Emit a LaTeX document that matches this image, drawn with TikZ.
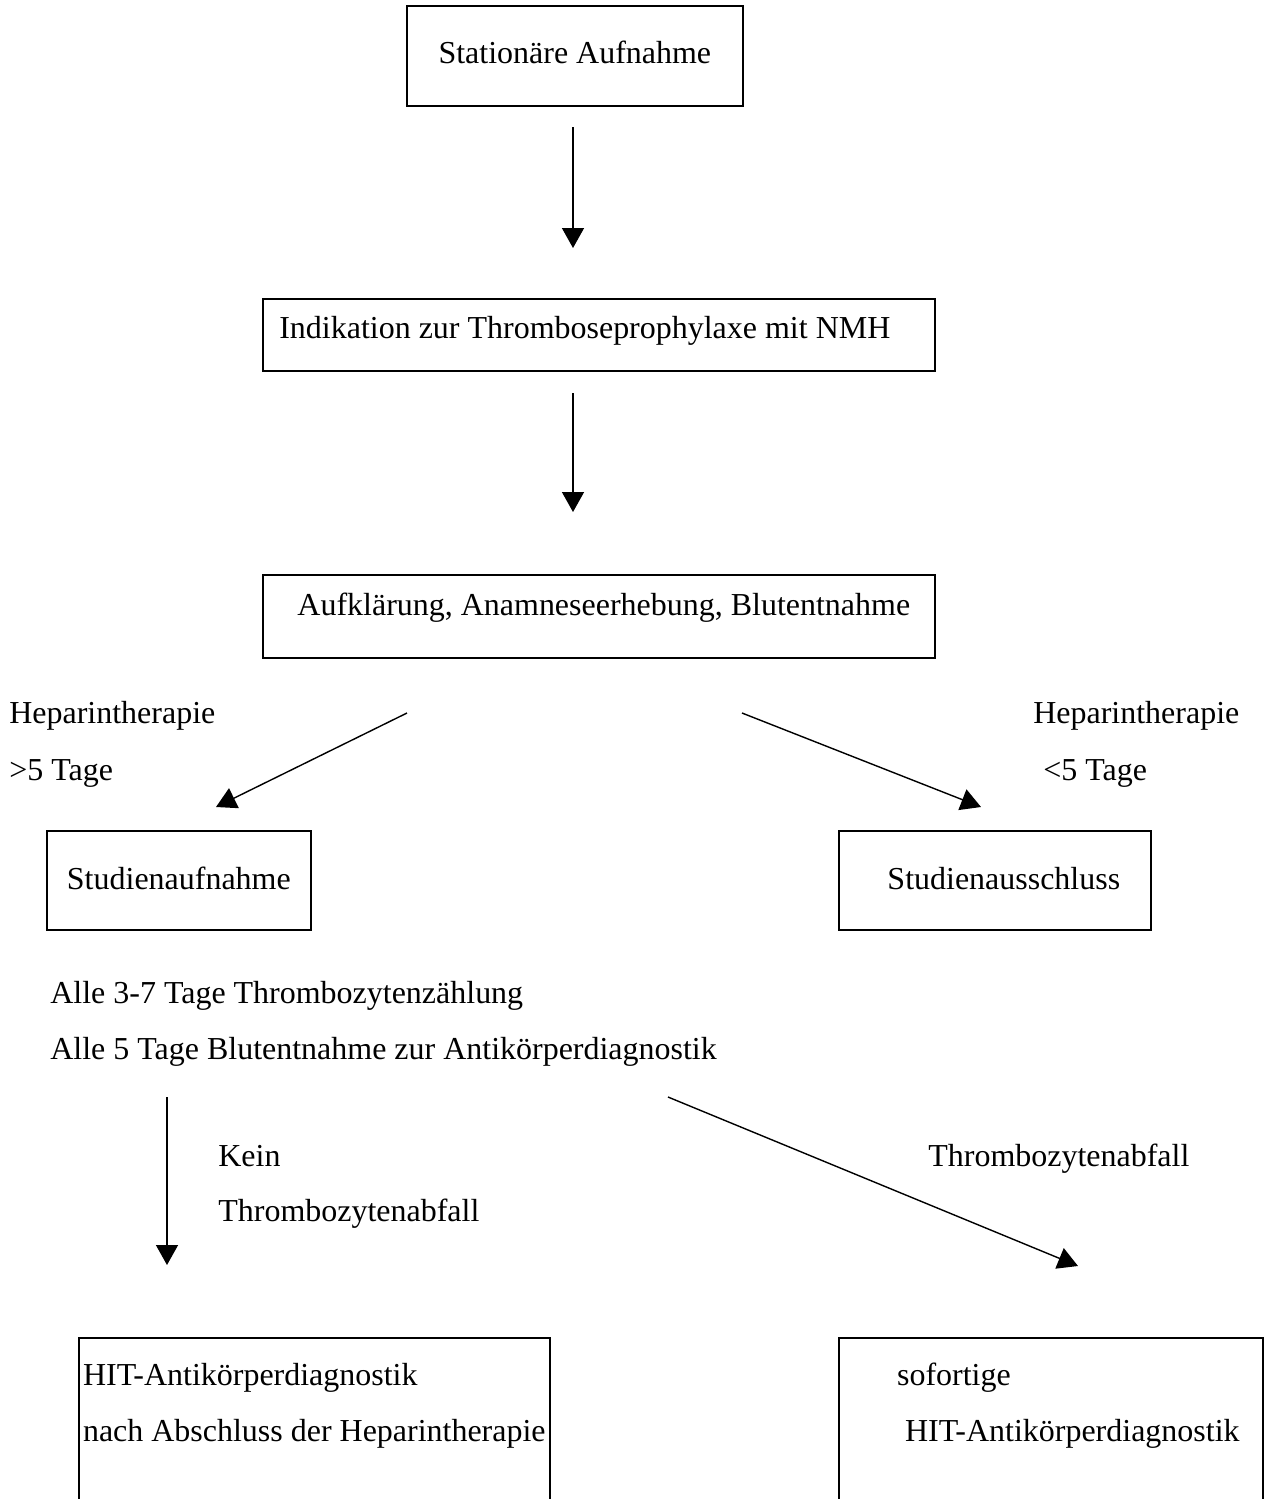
\documentclass[tikz,border=0pt]{standalone}
\usepackage{fontspec}
\setmainfont{Liberation Serif}
\usetikzlibrary{arrows.meta,positioning}

\begin{document}
\begin{tikzpicture}[x=0.02cm, y=-0.02cm,
    >={Triangle[length=0.4cm,width=0.44cm]},
    box/.style={draw, line width=1pt, inner sep=0pt, anchor=north west,
        align=left, font=\fontsize{18.2}{31.9}\selectfont},
    lbl/.style={inner sep=0pt, anchor=base west, font=\fontsize{18.2}{31.9}\selectfont},
    flow/.style={->, line width=0.8pt}]
    \useasboundingbox (0,0) rectangle (1271,1499);

    % boxes
    \node [box, minimum width=6.72cm, text height=1.16cm, text depth=0.84cm]
        (stat) at (406,5) {Stationäre Aufnahme};
    \node [box, minimum width=13.44cm, text height=0.8cm, text depth=0.64cm]
        (indik) at (262,298) {Indikation zur Thromboseprophylaxe mit NMH\hspace*{0.56cm}};
    \node [box, minimum width=13.44cm, text height=0.82cm, text depth=0.84cm]
        (aufkl) at (262,574) {\hspace*{0.2cm}Aufklärung, Anamneseerhebung, Blutentnahme};
    \node [box, minimum width=5.28cm, text height=1.18cm, text depth=0.8cm]
        (aufn) at (46,830) {Studienaufnahme};
    \node [box, minimum width=6.24cm, text height=1.18cm, text depth=0.8cm]
        (aussch) at (838,830) {\hspace*{0.36cm}Studienausschluss};
    \node [box, minimum width=9.42cm, text height=2.08cm, text depth=2cm]
        (hitspaet) at (78,1337) {HIT-Antikörperdiagnostik\\nach Abschluss der Heparintherapie};
    \node [box, minimum width=8.48cm, text height=2.08cm, text depth=2cm]
        (hitsofort) at (838,1337)
        {\hspace*{0.7cm}sofortige\\\hspace*{0.7cm}\ HIT-Antikörperdiagnostik};

    % free texts
    \node [lbl] (hepl)   at (9,723)    {Heparintherapie};
    \node [lbl] (tagel)  at (9,780)    {>5 Tage};
    \node [lbl] (hepr)   at (1033,723) {Heparintherapie};
    \node [lbl] (tager)  at (1043,780) {<5 Tage};
    \node [lbl] (alle1)  at (50,1003)  {Alle 3-7 Tage Thrombozytenzählung};
    \node [lbl] (alle2)  at (50,1059)  {Alle 5 Tage Blutentnahme zur Antikörperdiagnostik};
    \node [lbl] (kein)   at (218,1166) {Kein};
    \node [lbl] (keinab) at (218,1221) {Thrombozytenabfall};
    \node [lbl] (abfall) at (928,1166) {Thrombozytenabfall};

    % arrow ends
    \coordinate (s1) at (573,127);  \coordinate (e1) at (573,248);
    \coordinate (s2) at (573,393);  \coordinate (e2) at (573,512);
    \coordinate (s3) at (407,713);  \coordinate (e3) at (216,807);
    \coordinate (s4) at (742,713);  \coordinate (e4) at (981,807);
    \coordinate (s5) at (167,1097); \coordinate (e5) at (167,1265);
    \coordinate (s6) at (668,1097); \coordinate (e6) at (1078,1266);

    \foreach \i in {1,...,6}
        \draw [flow] (s\i) -- (e\i);
\end{tikzpicture}
\end{document}
